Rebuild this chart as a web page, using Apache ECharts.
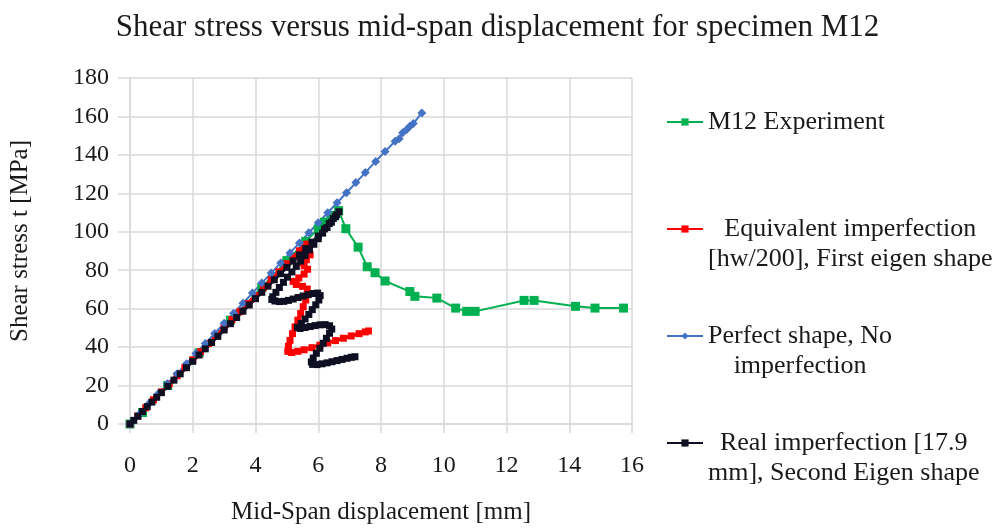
<!DOCTYPE html>
<html><head><meta charset="utf-8">
<script src="https://cdn.jsdelivr.net/npm/echarts@6/dist/echarts.min.js"></script>
<style>html,body{margin:0;padding:0;background:#fff}#c{width:995px;height:530px}</style>
</head><body><div id="c"></div>
<script>
const titleText = 'Shear stress versus mid-span displacement for specimen M12';
const xAxisTitle = 'Mid-Span displacement [mm]';
const yAxisTitle = 'Shear stress t [MPa]';
const xTicks = [0, 2, 4, 6, 8, 10, 12, 14, 16];
const yTicks = [0, 20, 40, 60, 80, 100, 120, 140, 160, 180];
const seriesNames = [
  'M12 Experiment',
  'Equivalent imperfection [hw/200], First eigen shape',
  'Perfect shape, No imperfection',
  'Real imperfection [17.9 mm], Second Eigen shape'
];
const legendLines = [
  ['M12 Experiment'],
  ['Equivalent imperfection', '[hw/200], First eigen shape'],
  ['Perfect shape, No', 'imperfection'],
  ['Real imperfection [17.9', 'mm], Second Eigen shape']
];

const m12Experiment = [[0,0],[0.4,6],[1.2,20],[2.2,37],[3.2,54],[4.2,71],[5.0,85],[5.6,95],[6.0,101.5],[6.2,105],[6.4,108.5],[6.65,111],[6.88,101.6],[7.27,92],[7.56,81.8],[7.81,78.7],[8.13,74.4],[8.92,68.9],[9.08,66.4],[9.78,65.5],[10.38,60.3],[10.73,58.6],[11.0,58.6],[12.56,64.3],[12.88,64.3],[14.2,61.2],[14.82,60.3],[15.73,60.3]];

const equivalentImperfection = [[0,0],[0.25,4.2],[0.5,8.4],[0.75,12.6],[1.0,16.7],[1.25,20.9],[1.5,25.1],[1.75,29.3],[2.0,33.4],[2.25,37.6],[2.5,41.8],[2.75,45.9],[3.0,50.1],[3.25,54.3],[3.5,58.4],[3.75,62.6],[4.0,66.8],[4.25,70.9],[4.5,75.1],[4.75,79.2],[5.0,83.4],[5.2,86.8],[5.4,90.1],[5.55,92.5],[5.63,93.6],[5.7,91],[5.74,88],[5.62,85.5],[5.48,84],[5.55,82.3],[5.66,80.5],[5.55,78],[5.38,76],[5.2,74.2],[5.3,72.6],[5.5,71.6],[5.65,70.2],[5.66,67.5],[5.6,64.5],[5.52,61],[5.44,57.5],[5.35,54],[5.26,50.5],[5.18,47],[5.1,43.5],[5.05,40.5],[5.03,37.8],[5.15,37.2],[5.35,37.8],[5.55,38.6],[5.8,39.7],[6.05,41],[6.3,42.2],[6.55,43.4],[6.8,44.6],[7.05,45.8],[7.3,47],[7.5,47.9],[7.6,48.4]];

const perfectShape = [[0,0],[0.3,5.2],[0.6,10.5],[0.9,15.7],[1.2,21],[1.5,26.2],[1.8,31.4],[2.1,36.7],[2.4,41.9],[2.7,47.1],[3.0,52.4],[3.3,57.6],[3.6,62.8],[3.9,68.1],[4.2,73.3],[4.5,78.5],[4.8,83.8],[5.1,89],[5.4,94.2],[5.7,99.5],[6.0,104.7],[6.3,109.9],[6.6,115.1],[6.9,120.3],[7.2,125.6],[7.5,130.8],[7.83,136.6],[8.13,141.8],[8.45,147.1],[8.58,148.4],[8.69,151.5],[8.82,153.2],[8.92,154.9],[9.03,156.3],[9.3,161.8]];

const realImperfection = [[0,0],[0.12,1.9],[0.25,4],[0.4,6.5],[0.55,9],[0.7,11.4],[0.85,13.9],[1.0,16.3],[1.2,19.6],[1.4,22.8],[1.6,26.1],[1.8,29.3],[2.0,32.6],[2.2,35.9],[2.4,39.1],[2.6,42.4],[2.8,45.6],[3.0,48.9],[3.2,52.2],[3.4,55.4],[3.6,58.7],[3.8,61.9],[4.0,65.2],[4.2,68.5],[4.4,71.7],[4.6,75],[4.8,78.2],[5.0,81.5],[5.2,84.8],[5.4,88],[5.6,91.3],[5.8,94.6],[6.0,97.8],[6.2,101.5],[6.35,104.3],[6.48,106.9],[6.58,108.8],[6.66,110.4],[6.55,107.8],[6.42,105],[6.28,102.2],[6.14,99.3],[6.0,96.4],[5.86,93.5],[5.72,90.6],[5.58,87.7],[5.44,84.8],[5.3,82],[5.16,79.1],[5.02,76.4],[4.89,73.7],[4.76,71],[4.65,68.5],[4.55,66.2],[4.52,64.8],[4.62,64],[4.76,63.7],[4.9,63.8],[5.05,64.3],[5.2,65],[5.36,65.8],[5.52,66.6],[5.68,67.3],[5.84,67.9],[5.98,68.1],[6.06,66.8],[6.02,64.5],[5.92,62],[5.81,59.5],[5.7,57],[5.58,54.6],[5.46,52.3],[5.34,50.3],[5.42,49.7],[5.58,50.2],[5.74,50.7],[5.9,51.2],[6.06,51.6],[6.22,51.7],[6.36,51.1],[6.43,49.4],[6.36,47.2],[6.26,44.6],[6.16,42],[6.05,39.4],[5.94,36.8],[5.84,34.3],[5.78,32.3],[5.82,31],[5.96,30.9],[6.12,31.3],[6.28,31.8],[6.44,32.4],[6.6,33],[6.76,33.6],[6.92,34.2],[7.06,34.7],[7.17,35]];

const FONT = '"Liberation Serif", "Times New Roman", serif';
const TXT = '#1a1a1a';
const GRID = '#d9d9d9';

const chart = echarts.init(document.getElementById('c'), null, {renderer: 'canvas'});

function mkSeries(name, data, color, symbol, size, width) {
  return {
    name: name, type: 'line', data: data, color: color,
    symbol: symbol, symbolSize: size, showSymbol: true,
    lineStyle: {color: color, width: width},
    itemStyle: {color: color},
    animation: false, silent: true
  };
}

chart.setOption({
  animation: false,
  backgroundColor: '#fff',
  title: {
    text: titleText, left: 'center', top: 7,
    textStyle: {fontFamily: FONT, fontSize: 31, fontWeight: 'normal', color: TXT}
  },
  grid: {left: 130, right: 363, top: 78, bottom: 103, containLabel: false},
  legend: {
    orient: 'vertical', left: 666, top: 79, itemGap: 21,
    itemWidth: 36, itemHeight: 9, padding: 0,
    data: seriesNames,
    formatter: function (name) {
      const lines = legendLines[seriesNames.indexOf(name)];
      let s = '{h| }\n' + lines.map(l => '{c|' + l + '}').join('\n');
      if (lines.length === 1) s += '\n{h| }';
      return s;
    },
    textStyle: {
      fontFamily: FONT, fontSize: 26, color: TXT,
      rich: {
        h: {fontFamily: FONT, fontSize: 26, lineHeight: 30},
        c: {fontFamily: FONT, fontSize: 26, lineHeight: 30, align: 'center', color: TXT}
      }
    }
  },
  xAxis: {
    type: 'value', min: xTicks[0], max: xTicks[xTicks.length - 1], interval: xTicks[1] - xTicks[0],
    name: xAxisTitle, nameLocation: 'middle', nameGap: 76,
    nameTextStyle: {fontFamily: FONT, fontSize: 25, color: TXT},
    axisLine: {show: true, lineStyle: {color: GRID, width: 1.5}},
    axisTick: {show: true, length: 9, lineStyle: {color: GRID, width: 1.5}},
    axisLabel: {fontFamily: FONT, fontSize: 24, color: TXT, margin: 30},
    splitLine: {show: true, lineStyle: {color: GRID, width: 1.5}}
  },
  yAxis: {
    type: 'value', min: yTicks[0], max: yTicks[yTicks.length - 1], interval: yTicks[1] - yTicks[0],
    name: yAxisTitle, nameLocation: 'middle', nameGap: 97,
    nameTextStyle: {fontFamily: FONT, fontSize: 25, color: TXT, padding: [0, 0, 0, 20]},
    axisLine: {show: true, lineStyle: {color: GRID, width: 1.5}},
    axisTick: {show: true, length: 12, lineStyle: {color: GRID, width: 1.5}},
    axisLabel: {fontFamily: FONT, fontSize: 24, color: TXT, margin: 21},
    splitLine: {show: true, lineStyle: {color: GRID, width: 1.5}}
  },
  series: [
    mkSeries(seriesNames[0], m12Experiment, '#00b050', 'rect', 9, 2),
    mkSeries(seriesNames[1], equivalentImperfection, '#ff0000', 'rect', 7, 3.5),
    mkSeries(seriesNames[2], perfectShape, '#4472c4', 'diamond', 9, 2),
    mkSeries(seriesNames[3], realImperfection, '#0e0f22', 'rect', 7, 3)
  ]
});
</script>
</body></html>
